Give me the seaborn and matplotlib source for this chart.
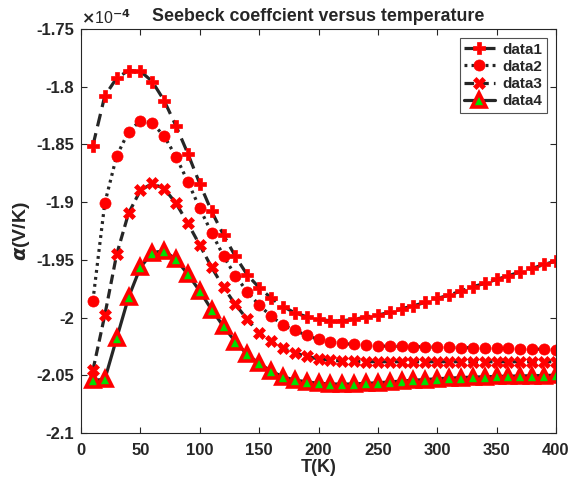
import numpy as np
import pandas as pd
import matplotlib
matplotlib.use('Agg')
import matplotlib.pyplot as plt
import seaborn as sns
from matplotlib.ticker import FuncFormatter, MultipleLocator

# temperature (K) and Seebeck coefficient in units of 1e-4 V/K
T = list(range(10, 401, 10))

data1 = [-1.851, -1.808, -1.7925, -1.786, -1.7865, -1.7955, -1.812, -1.834, -1.858, -1.884,
         -1.908, -1.9285, -1.947, -1.963, -1.974, -1.983, -1.9905, -1.9958, -1.9993, -2.0015,
         -2.0028, -2.0027, -2.0016, -1.9995, -1.9978, -1.9955, -1.9924, -1.9898, -1.9868, -1.9834,
         -1.9805, -1.977, -1.9733, -1.9704, -1.9669, -1.9638, -1.9603, -1.9574, -1.954, -1.951]

data2 = [-1.9854, -1.901, -1.860, -1.839, -1.8294, -1.8317, -1.8427, -1.8607, -1.8823, -1.9054,
         -1.9265, -1.9467, -1.9638, -1.9776, -1.9892, -1.9987, -2.0065, -2.011, -2.0155, -2.019,
         -2.021, -2.0224, -2.0233, -2.0242, -2.0246, -2.0248, -2.025, -2.0252, -2.0254, -2.0256,
         -2.0258, -2.026, -2.0262, -2.0264, -2.0266, -2.0268, -2.027, -2.0272, -2.0275, -2.028]

data3 = [-2.0457, -1.998, -1.9453, -1.9097, -1.8898, -1.8838, -1.8882, -1.901, -1.9184, -1.9372,
         -1.9565, -1.9738, -1.9886, -2.0016, -2.0132, -2.0204, -2.0267, -2.0305, -2.0337, -2.0358,
         -2.037, -2.0376, -2.038, -2.0382, -2.0383, -2.0383, -2.0383, -2.0383, -2.0383, -2.0383,
         -2.0383, -2.0383, -2.0383, -2.0383, -2.0383, -2.0383, -2.0383, -2.0383, -2.0383, -2.0383]

data4 = [-2.0543, -2.0536, -2.018, -1.9825, -1.9565, -1.9438, -1.9421, -1.9496, -1.9626, -1.977,
         -1.9932, -2.0077, -2.021, -2.032, -2.0397, -2.0464, -2.0513, -2.0542, -2.0556, -2.057,
         -2.0575, -2.0577, -2.0575, -2.057, -2.0565, -2.0558, -2.055, -2.0543, -2.0537, -2.053,
         -2.0525, -2.052, -2.0516, -2.0513, -2.051, -2.0508, -2.0506, -2.0504, -2.0502, -2.05]

series_names = ['data1', 'data2', 'data3', 'data4']

# ***************************************************

sns.set_style('ticks')
plt.rcParams['font.family'] = ['Liberation Sans', 'DejaVu Sans']
plt.rcParams['font.weight'] = 'bold'
plt.rcParams['font.size'] = 10

df = pd.DataFrame({'T': T, 'data1': data1, 'data2': data2, 'data3': data3, 'data4': data4})

fig = plt.figure(figsize=(5.71, 4.82), dpi=100)
ax = fig.add_axes([0.1419, 0.1017, 0.8318, 0.8381])

line_c = '#262626'
styles = {
    'data1': dict(marker='P', markersize=9, mfc='red', mec='red', mew=0.5, linestyle=(0, (4, 2.2))),
    'data2': dict(marker='o', markersize=8, mfc='red', mec='red', mew=0.5, linestyle=(0, (0.9, 1.3))),
    'data3': dict(marker='X', markersize=8.5, mfc='red', mec='red', mew=0.5, linestyle=(0, (3, 1.6))),
    'data4': dict(marker='^', markersize=10, mfc='#00e000', mec='red', mew=2.6, linestyle='-'),
}

for name in series_names:
    sns.lineplot(data=df, x='T', y=name, ax=ax, color=line_c, linewidth=2.3,
                 label=name, **styles[name])

ax.set_xlim(0, 400)
ax.set_ylim(-2.1, -1.75)
ax.xaxis.set_major_locator(MultipleLocator(50))
ax.yaxis.set_major_locator(MultipleLocator(0.05))
ax.yaxis.set_major_formatter(FuncFormatter(lambda v, p: f'{v:.2f}'.rstrip('0').rstrip('.')))

ax.tick_params(direction='in', top=True, right=True, length=4, width=0.8,
               colors='#262626', labelsize=12)
ax.tick_params(axis='x', pad=7)
ax.tick_params(axis='y', pad=5)
for lbl in ax.get_xticklabels() + ax.get_yticklabels():
    lbl.set_fontweight('bold')
for sp in ax.spines.values():
    sp.set_linewidth(0.8)
    sp.set_color('#262626')

ax.set_xlabel('T(K)', fontsize=13, fontweight='bold', labelpad=1)
ax.set_ylabel(r'$\alpha$(V/K)', fontsize=14, fontweight='bold', labelpad=3)
ax.set_title('Seebeck coeffcient versus temperature', fontsize=12.8, fontweight='bold', pad=6)
ax.text(0.0, 1.005, r'$\times$10$^{-4}$', transform=ax.transAxes, fontsize=11.5,
        ha='left', va='bottom', fontweight='normal')

leg = ax.legend(loc='upper right', fontsize=11, frameon=True, fancybox=False,
                edgecolor='#262626', handlelength=2.0, borderpad=0.3,
                labelspacing=0.2, handletextpad=0.5, borderaxespad=0.6)
leg.get_frame().set_linewidth(0.8)
for t in leg.get_texts():
    t.set_fontweight('bold')

fig.savefig('out.png', dpi=100)
